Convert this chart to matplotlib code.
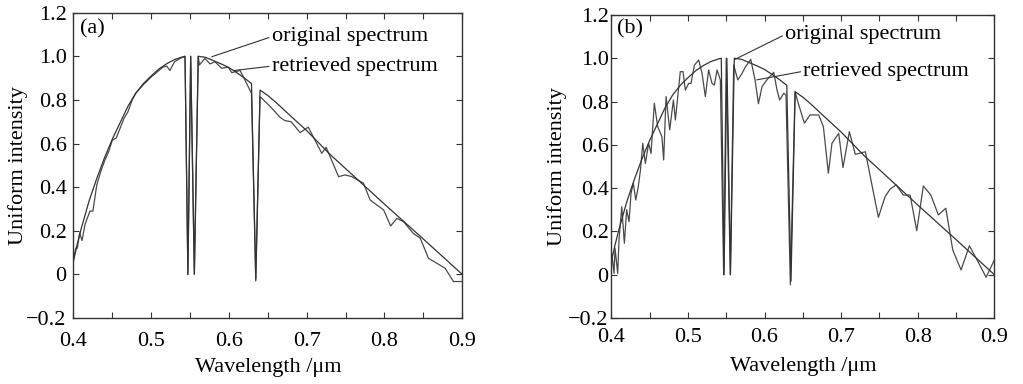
import matplotlib
matplotlib.use("Agg")
import matplotlib.pyplot as plt
from matplotlib.ticker import MultipleLocator

# ---------------- data ----------------
orig_wl = [0.400, 0.405, 0.410, 0.420, 0.430, 0.440, 0.450, 0.460, 0.470, 0.480,
           0.490, 0.500, 0.510, 0.520, 0.530, 0.540, 0.5435, 0.5472, 0.5508, 0.5555,
           0.5605, 0.570, 0.580, 0.590, 0.600, 0.610, 0.620, 0.629, 0.6345, 0.640,
           0.650, 0.660, 0.680, 0.700, 0.730, 0.750, 0.800, 0.850, 0.900]
orig_val = [0.06, 0.14, 0.21, 0.335, 0.44, 0.535, 0.62, 0.695, 0.77, 0.83,
            0.875, 0.91, 0.942, 0.966, 0.985, 0.997, 1.0, 0.0, 1.0, 0.0,
            1.0, 0.995, 0.98, 0.965, 0.948, 0.925, 0.90, 0.875, -0.03, 0.845,
            0.82, 0.79, 0.724, 0.659, 0.55, 0.485, 0.322, 0.162, 0.0]

ret_a_wl = [0.400, 0.403, 0.405, 0.408, 0.411, 0.415, 0.4212, 0.425, 0.430, 0.435,
            0.440, 0.445, 0.450, 0.455, 0.460, 0.465, 0.470, 0.475, 0.480, 0.490,
            0.500, 0.510, 0.515, 0.520, 0.524, 0.530, 0.537, 0.5435, 0.5472, 0.5508,
            0.5555, 0.5605, 0.562, 0.569, 0.5757, 0.582, 0.5907, 0.599, 0.6036, 0.6143,
            0.6207, 0.629, 0.6345, 0.640, 0.653, 0.6658, 0.672, 0.680, 0.6915, 0.702,
            0.7194, 0.725, 0.741, 0.7494, 0.758, 0.773, 0.7816, 0.799, 0.808, 0.816,
            0.8245, 0.837, 0.846, 0.8566, 0.878, 0.8888, 0.900]
ret_a_val = [0.07, 0.12, 0.12, 0.19, 0.155, 0.23, 0.29, 0.29, 0.41, 0.47,
             0.52, 0.56, 0.615, 0.625, 0.67, 0.715, 0.745, 0.795, 0.83, 0.87,
             0.905, 0.935, 0.95, 0.955, 0.935, 0.975, 0.99, 1.0, 0.0, 1.0,
             0.0, 1.0, 0.96, 0.99, 0.965, 0.975, 0.945, 0.95, 0.925, 0.935,
             0.89, 0.83, -0.02, 0.815, 0.77, 0.72, 0.705, 0.70, 0.65, 0.675,
             0.555, 0.583, 0.448, 0.456, 0.448, 0.418, 0.341, 0.295, 0.222, 0.257,
             0.242, 0.188, 0.166, 0.074, 0.028, -0.033, -0.033]

ret_b_wl = [0.400, 0.4005, 0.4035, 0.4048, 0.4083, 0.410, 0.4136, 0.417, 0.420, 0.4231,
            0.4257, 0.4287, 0.4319, 0.4352, 0.438, 0.441, 0.4444, 0.4487, 0.4518, 0.4561,
            0.4605, 0.466, 0.4683, 0.4714, 0.4762, 0.481, 0.4836, 0.490, 0.4936, 0.4966,
            0.501, 0.504, 0.5084, 0.514, 0.5184, 0.5227, 0.527, 0.5314, 0.5345, 0.538,
            0.5423, 0.5466, 0.550, 0.5553, 0.5597, 0.565, 0.5706, 0.575, 0.582, 0.5876,
            0.592, 0.5967, 0.603, 0.612, 0.6163, 0.6197, 0.625, 0.628, 0.6337, 0.6398,
            0.644, 0.652, 0.6594, 0.6707, 0.6768, 0.6833, 0.688, 0.6968, 0.7024, 0.7107,
            0.7185, 0.7316, 0.7486, 0.7573, 0.7638, 0.7717, 0.7812, 0.790, 0.7987, 0.8073,
            0.817, 0.8269, 0.8366, 0.8457, 0.8565, 0.8674, 0.877, 0.8892, 0.900]
ret_b_val = [0.022, 0.10, 0.006, 0.122, 0.006, 0.16, 0.314, 0.145, 0.30, 0.245,
             0.376, 0.422, 0.345, 0.407, 0.483, 0.607, 0.514, 0.607, 0.56, 0.792,
             0.684, 0.638, 0.53, 0.823, 0.669, 0.807, 0.715, 0.938, 0.938, 0.853,
             0.884, 0.884, 0.968, 0.992, 0.93, 0.823, 0.946, 0.884, 0.876, 0.946,
             0.90, 0.0, 1.0, 0.0, 0.97, 0.90, 0.93, 0.96, 0.995, 0.90,
             0.79, 0.869, 0.90, 0.935, 0.853, 0.807, 0.838, 0.83, -0.047, 0.846,
             0.792, 0.70, 0.738, 0.738, 0.684, 0.469, 0.607, 0.653, 0.495, 0.661,
             0.556, 0.568, 0.265, 0.36, 0.395, 0.415, 0.368, 0.368, 0.203, 0.41,
             0.368, 0.276, 0.307, 0.114, 0.022, 0.133, 0.071, -0.012, 0.068]

x_ticks = [0.4, 0.5, 0.6, 0.7, 0.8, 0.9]
y_ticks = [-0.2, 0.0, 0.2, 0.4, 0.6, 0.8, 1.0, 1.2]
y_ticklabels = ["\u22120.2", "0", "0.2", "0.4", "0.6", "0.8", "1.0", "1.2"]
x_ticklabels = ["0.4", "0.5", "0.6", "0.7", "0.8", "0.9"]
panel_labels = ["(a)", "(b)"]

# ---------------- style ----------------
plt.rcParams['font.family'] = ['Liberation Serif', 'DejaVu Serif']
plt.rcParams['font.size'] = 16

fig = plt.figure(figsize=(10.23, 3.84), dpi=100)
fig.patch.set_facecolor('white')

axes_pos = [[0.0718, 0.172, 0.380, 0.795], [0.5976, 0.172, 0.3744, 0.789]]
ret_sets = [(ret_a_wl, ret_a_val), (ret_b_wl, ret_b_val)]
ytick_pad = [5, 2]
xtick_pad = [10, 7.5]
ylab_pad = [-1, 0.7]
xlab_pad = [5, 7]
orig_ann = [((0.578, 0.998), (0.655, 1.09)), ((0.5614, 0.995), (0.627, 1.11))]
ret_ann = [((0.607, 0.935), (0.655, 0.955)), ((0.5898, 0.90), (0.6507, 0.94))]
label_xy = [(0.408, 1.125), (0.4075, 1.135)]

c_orig = '#333333'
c_ret = '#4a4a4a'
c_axis = '#333333'

for i in range(2):
    ax = fig.add_axes(axes_pos[i])
    rw, rv = ret_sets[i]
    ax.plot(rw, rv, color=c_ret, lw=0.9, zorder=2)
    ax.plot(orig_wl, orig_val, color=c_orig, lw=0.9, zorder=3)

    ax.set_xlim(0.4, 0.9)
    ax.set_ylim(-0.2, 1.2)
    ax.set_xticks(x_ticks)
    ax.set_xticklabels(x_ticklabels)
    ax.set_yticks(y_ticks)
    ax.set_yticklabels(y_ticklabels)
    ax.xaxis.set_minor_locator(MultipleLocator(0.05))
    ax.tick_params(axis='both', which='both', direction='in', top=True, right=True,
                   length=4, width=0.8, color=c_axis, labelsize=16)
    ax.tick_params(axis='y', pad=ytick_pad[i])
    ax.tick_params(axis='x', pad=xtick_pad[i])
    for s in ax.spines.values():
        s.set_color(c_axis)
        s.set_linewidth(1.0)

    ax.set_xlabel('Wavelength /\u03bcm', fontsize=16, labelpad=xlab_pad[i])
    ax.set_ylabel('Uniform intensity', fontsize=16, labelpad=ylab_pad[i])

    ax.text(label_xy[i][0], label_xy[i][1], panel_labels[i], fontsize=16,
            ha='left', va='center')

    for (xy, xytext), txt in [(orig_ann[i], 'original spectrum'),
                              (ret_ann[i], 'retrieved spectrum')]:
        ax.annotate(txt, xy=xy, xytext=xytext, fontsize=16, ha='left', va='center',
                    arrowprops=dict(arrowstyle='-', lw=0.8, color=c_orig,
                                    shrinkA=0, shrinkB=0, relpos=(0, 0.5)))

fig.savefig('out.png', dpi=100, facecolor='white')
